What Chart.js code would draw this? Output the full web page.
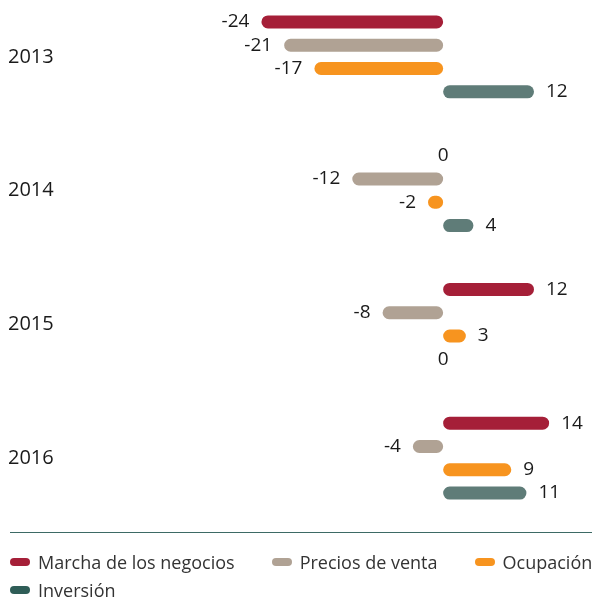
<!DOCTYPE html>
<html lang="es">
<head>
<meta charset="utf-8">
<script src="https://cdn.jsdelivr.net/npm/chart.js@4/dist/chart.umd.min.js"></script>
<style>
  html, body { margin: 0; padding: 0; background: #fff; overflow: hidden; }
  body { position: relative; width: 592px; height: 598px; font-family: 'Open Sans', sans-serif; }
  #wrap { position: absolute; left: 0; top: -25px; width: 592px; height: 565px; }
  #sep { position: absolute; left: 10px; right: 0; top: 532px; border-top: 1px solid #3d6a65; }
  #legend { position: absolute; left: 10px; top: 551px; width: 640px; display: flex; flex-wrap: wrap; column-gap: 37px; row-gap: 6px; }
  .item { display: flex; align-items: center; font-size: 18px; color: #333; line-height: 22px; white-space: nowrap; }
  .swatch { width: 20px; height: 8px; border-radius: 4px; margin-right: 8px; }
</style>
</head>
<body>
<div id="wrap"><canvas id="chart"></canvas></div>
<div id="sep"></div>
<div id="legend"></div>

<script>
// === Datos ===
const years = ['2013', '2014', '2015', '2016'];
const seriesNames = ['Marcha de los negocios', 'Precios de venta', 'Ocupación', 'Inversión'];
const marcha   = [-24, 0, 12, 14];
const precios  = [-21, -12, -8, -4];
const ocupacion = [-17, -2, 3, 9];
const inversion = [12, 4, 0, 11];

const barColors = ['#a51f38', '#b0a294', '#f7941f', '#5f7c78'];
const legendColors = ['#a51f38', '#b0a294', '#f7941f', '#2f5d57'];

// etiquetas de valor al extremo de cada barra
const valueLabels = {
    id: 'valueLabels',
    afterDatasetsDraw(chart) {
        const ctx = chart.ctx;
        const zeroX = chart.scales.x.getPixelForValue(0);
        ctx.save();
        ctx.font = '19px "Open Sans"';
        ctx.fillStyle = '#1a1a1a';
        ctx.textBaseline = 'middle';
        chart.data.datasets.forEach((ds, i) => {
            chart.getDatasetMeta(i).data.forEach((bar, j) => {
                const v = ds.data[j];
                if (v === 0) {
                    ctx.textAlign = 'center';
                    ctx.fillText('0', zeroX, bar.y);
                } else if (v < 0) {
                    ctx.textAlign = 'right';
                    ctx.fillText(String(v), bar.x - 12, bar.y);
                } else {
                    ctx.textAlign = 'left';
                    ctx.fillText(String(v), bar.x + 12, bar.y);
                }
            });
        });
        ctx.restore();
    }
};

const chart = new Chart(document.getElementById('chart'), {
    type: 'bar',
    data: {
        labels: years,
        datasets: [marcha, precios, ocupacion, inversion].map((d, i) => ({
            label: seriesNames[i],
            data: d,
            backgroundColor: ctx => ctx.raw === 0 ? 'rgba(0,0,0,0)' : barColors[i],
            borderRadius: 7,
            borderSkipped: false,
            categoryPercentage: 0.6965,
            barPercentage: 0.557
        }))
    },
    options: {
        indexAxis: 'y',
        responsive: true,
        maintainAspectRatio: false,
        animation: false,
        layout: { padding: { left: 8, right: 5, top: 0, bottom: 0 } },
        plugins: { legend: { display: false }, tooltip: { enabled: false } },
        scales: {
            x: { display: false, min: -30, max: 19 },
            y: {
                grid: { display: false },
                border: { display: false },
                afterFit: scale => { scale.width = 208; },
                ticks: {
                    crossAlign: 'far',
                    color: '#1a1a1a',
                    font: { family: 'Open Sans', size: 20 }
                }
            }
        }
    },
    plugins: [valueLabels]
});

// leyenda en HTML
const legendEl = document.getElementById('legend');
seriesNames.forEach((name, i) => {
    const item = document.createElement('div');
    item.className = 'item';
    item.innerHTML = `<span class="swatch" style="background:${legendColors[i]}"></span>${name}`;
    legendEl.appendChild(item);
});
</script>
</body>
</html>
